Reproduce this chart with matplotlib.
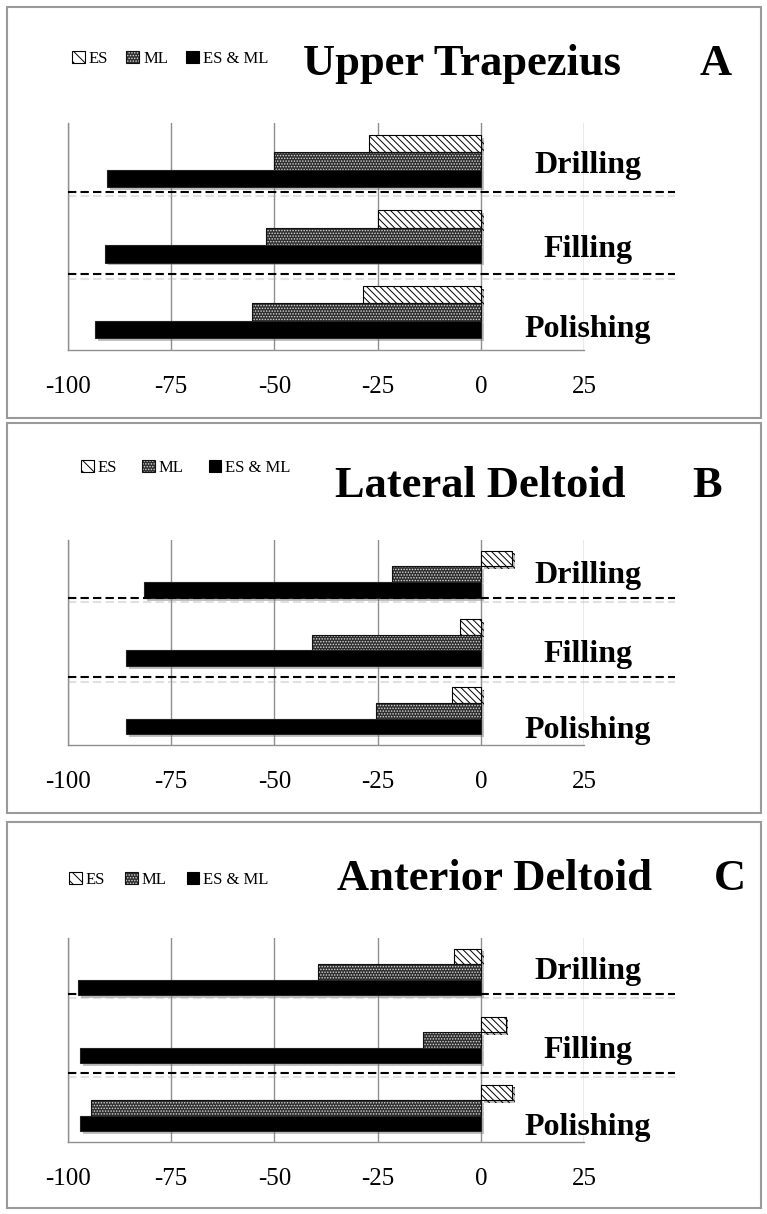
import matplotlib
matplotlib.use("Agg")
import matplotlib.pyplot as plt
import matplotlib.patheffects as pe
from matplotlib.patches import Rectangle, Patch
from matplotlib.legend_handler import HandlerTuple

plt.rcParams['font.family'] = ['Liberation Serif', 'DejaVu Serif']
plt.rcParams['axes.unicode_minus'] = False
plt.rcParams['hatch.linewidth'] = 0.7

# data
tasks = ['Drilling', 'Filling', 'Polishing']
series_names = ['ES', 'ML', 'ES & ML']
muscles = ['Upper Trapezius', 'Lateral Deltoid', 'Anterior Deltoid']
letters = ['A', 'B', 'C']

es_trap = [-27, -25, -28.5]
ml_trap = [-50, -52, -55.5]
esml_trap = [-90.5, -91, -93.5]

es_lat = [7.5, -5, -7]
ml_lat = [-21.5, -41, -25.5]
esml_lat = [-81.5, -86, -86]

es_ant = [-6.5, 6, 7.5]
ml_ant = [-39.5, -14, -94.5]
esml_ant = [-97.5, -97, -97]

xticks = [-100, -75, -50, -25, 0, 25]
xtick_labels = ['-100', '-75', '-50', '-25', '0', '25']

values = [(es_trap, ml_trap, esml_trap),
          (es_lat, ml_lat, esml_lat),
          (es_ant, ml_ant, esml_ant)]

# layout in pixels
W, H = 767, 1214
def fx(x):
    return x / W
def fy(y):
    return 1 - y / H

layout = [
    dict(box=(7, 418), plot=(123, 350), title=75, leg=(72, 59), colsp=1.1,
         lab=[173, 257, 337], sep=[0.41, 1.50], tx=303, lx=700),
    dict(box=(423, 813), plot=(540, 745), title=497, leg=(81, 468), colsp=1.5,
         lab=[583, 662, 738], sep=[0.35, 1.51], tx=335, lx=692),
    dict(box=(822, 1208), plot=(938, 1142), title=890, leg=(69, 880), colsp=1.2,
         lab=[979, 1058, 1135], sep=[0.32, 1.49], tx=337, lx=714),
]

grid_col = '#8f8f8f'
ml_face = '#2e2e2e'
es_hatch = '\\\\\\\\\\'
bar_h = 0.23
shadow = [pe.SimplePatchShadow(offset=(2, -2), shadow_rgbFace='#777777', alpha=0.45), pe.Normal()]

fig = plt.figure(figsize=(W / 100, H / 100), dpi=100)

for k, lay in enumerate(layout):
    es, ml, esml = values[k]
    b0, b1 = lay['box']
    fig.patches.append(Rectangle((fx(7), fy(b1)), fx(761 - 7), (b1 - b0) / H,
                                 transform=fig.transFigure, fill=False,
                                 edgecolor='#9a9a9a', linewidth=1.5))

    p0, p1 = lay['plot']
    ax = fig.add_axes([fx(68), fy(p1), fx(584 - 68), (p1 - p0) / H])
    ypos = list(range(len(tasks)))

    ax.barh([y - bar_h for y in ypos], es, height=bar_h, color='white',
            edgecolor='black', hatch=es_hatch, linewidth=0.8, zorder=3,
            path_effects=shadow)
    with plt.rc_context({'hatch.color': '#d8d8d8'}):
        ax.barh(ypos, ml, height=bar_h, color=ml_face, hatch='......',
                zorder=3, path_effects=shadow)
    ax.barh(ypos, ml, height=bar_h, fill=False, edgecolor='#111111',
            linewidth=0.8, zorder=3)
    ax.barh([y + bar_h for y in ypos], esml, height=bar_h, color='black',
            edgecolor='#222222', linewidth=0.8, zorder=3, path_effects=shadow)

    for s in lay['sep']:
        ax.plot([-100, 47], [s, s], color='black', linewidth=1.5,
                linestyle=(0, (4, 2)), clip_on=False, zorder=4,
                path_effects=[pe.SimpleLineShadow(offset=(0, -3), shadow_color='#aaaaaa', alpha=0.35),
                              pe.Normal()])

    ax.set_xlim(-100, 25)
    ax.set_ylim(2.5, -0.5)
    ax.set_xticks(xticks)
    ax.set_xticklabels(xtick_labels, fontsize=18)
    ax.set_yticks([])
    ax.tick_params(axis='x', length=0, pad=19)
    ax.grid(axis='x', color=grid_col, linewidth=1, zorder=0)
    ax.set_axisbelow(True)
    for side in ['top', 'right']:
        ax.spines[side].set_visible(False)
    for side in ['left', 'bottom']:
        ax.spines[side].set_color(grid_col)
        ax.spines[side].set_linewidth(1)

    # legend
    h_es = Patch(facecolor='white', edgecolor='black', hatch='\\\\\\', linewidth=0.8)
    with plt.rc_context({'hatch.color': '#d8d8d8'}):
        h_ml_fill = Patch(facecolor=ml_face, hatch='......')
    h_ml_edge = Patch(fill=False, edgecolor='#111111', linewidth=0.8)
    h_both = Patch(facecolor='black', edgecolor='black', linewidth=0.8)
    lx, ly = lay['leg']
    fig.legend([h_es, (h_ml_fill, h_ml_edge), h_both], series_names,
               handler_map={tuple: HandlerTuple(ndivide=1, pad=0)},
               loc='center left', bbox_to_anchor=(fx(lx), fy(ly)),
               bbox_transform=fig.transFigure, ncol=3, frameon=False,
               fontsize=12, handlelength=0.75, handleheight=0.75,
               handletextpad=0.25, columnspacing=lay['colsp'],
               borderpad=0, borderaxespad=0)

    fig.text(fx(lay['tx']), fy(lay['title']), muscles[k], fontsize=32,
             fontweight='bold', ha='left', va='baseline')
    fig.text(fx(lay['lx']), fy(lay['title']), letters[k], fontsize=32,
             fontweight='bold', ha='left', va='baseline')
    for t, yb in zip(tasks, lay['lab']):
        fig.text(fx(588), fy(yb), t, fontsize=23, fontweight='bold',
                 ha='center', va='baseline')

fig.savefig('out.png', dpi=100)
